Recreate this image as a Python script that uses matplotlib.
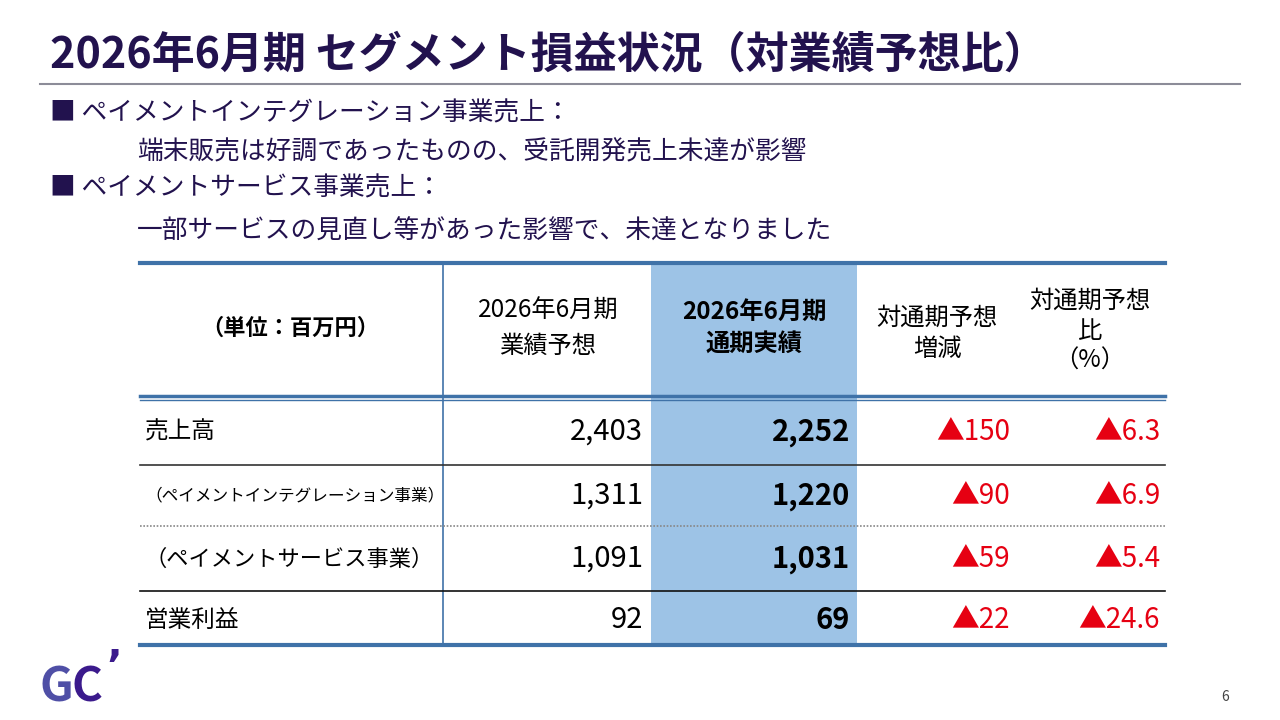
import matplotlib
import matplotlib.pyplot as plt

matplotlib.use("Agg")

plt.rcParams["font.family"] = ["Noto Sans CJK JP", "DejaVu Sans"]

# chart data
title = "2026年6月期 セグメント損益状況（対業績予想比）"
bullets = [
    ("■ ペイメントインテグレーション事業売上：", "端末販売は好調であったものの、受託開発売上未達が影響"),
    ("■ ペイメントサービス事業売上：", "一部サービスの見直し等があった影響で、未達となりました"),
]
unit_label = "（単位：百万円）"
col_headers = ["2026年6月期\n業績予想", "2026年6月期\n通期実績", "対通期予想\n増減", "対通期予想\n比\n（%）"]
row_labels = ["売上高", "（ペイメントインテグレーション事業）", "（ペイメントサービス事業）", "営業利益"]
forecast = [2403, 1311, 1091, 92]
actual = [2252, 1220, 1031, 69]
diff = [-150, -90, -59, -22]
ratio = [-6.3, -6.9, -5.4, -24.6]

TITLE_C = "#22124e"
BLUE = "#3f72a8"
HILITE = "#9dc3e6"
RED = "#e60012"


def tri(v, fmt):
    return ("▲" if v < 0 else "") + format(abs(v), fmt)


fig = plt.figure(figsize=(12.8, 7.2), dpi=100)
ax = fig.add_axes([0, 0, 1, 1])
ax.set_xlim(0, 1280)
ax.set_ylim(720, 0)
ax.axis("off")

# title and rule
ax.text(50, 55, title, fontsize=31, fontweight="bold", color=TITLE_C, va="center", ha="left")
ax.plot([40, 1240], [84, 84], color="#8c8c98", lw=1.5)

# bullet text
by = [113, 152, 188, 232]
for i, (head, body) in enumerate(bullets):
    ax.text(50, by[2 * i], head, fontsize=18.5, color=TITLE_C, va="center")
    ax.text(137, by[2 * i + 1], body, fontsize=18.5, color=TITLE_C, va="center")

# table geometry
top, head_bot, bot = 263, 398, 645
left, right, vline = 140, 1165, 443
hl_l, hl_r = 651, 857
row_y = [432, 496, 559, 620]
sep_y = [465, 526, 591]

ax.fill_between([hl_l, hl_r], top, bot, color=HILITE, lw=0, zorder=0)
ax.plot([left, right], [top, top], color=BLUE, lw=3)
ax.plot([left, right], [head_bot - 2, head_bot - 2], color=BLUE, lw=2.5)
ax.plot([left, right], [head_bot + 2, head_bot + 2], color=BLUE, lw=1)
ax.plot([left, right], [bot, bot], color=BLUE, lw=3)
ax.plot([vline, vline], [top, bot], color=BLUE, lw=1.2)
ax.plot([left, right], [sep_y[0], sep_y[0]], color="#333333", lw=1.2)
ax.plot([left, right], [sep_y[1], sep_y[1]], color="#888888", lw=1.2, ls=(0, (1, 1)))
ax.plot([left, right], [sep_y[2], sep_y[2]], color="#111111", lw=1.2)

# headers
ax.text(290, 328, unit_label, fontsize=16, fontweight="bold", ha="center", va="center")
hx = [548, 754, 937, 1090]
hy = [328, 328, 333, 331]
hsp = [1.45, 1.45, 1.25, 1.2]
for j, h in enumerate(col_headers):
    ax.text(hx[j], hy[j], h, fontsize=17.5, ha="center", va="center", linespacing=hsp[j],
            fontweight="bold" if j == 1 else "normal")

# body
label_size = [17, 12, 16, 17]
label_x = [145, 145, 145, 145]
for i, lab in enumerate(row_labels):
    y = row_y[i]
    ax.text(label_x[i], y, lab, fontsize=label_size[i], ha="left", va="center")
    ax.text(643, y, format(forecast[i], ","), fontsize=21, ha="right", va="center")
    ax.text(850, y, format(actual[i], ","), fontsize=21, ha="right", va="center", fontweight="semibold")
    ax.text(1010, y, tri(diff[i], "d"), fontsize=20, ha="right", va="center", color=RED)
    ax.text(1160, y, tri(ratio[i], ".1f"), fontsize=20, ha="right", va="center", color=RED)

# logo and page number
ax.text(40, 688, "G", fontsize=34, color="#4f4fa6", fontweight="bold", va="center", ha="left")
ax.text(72, 688, "C", fontsize=34, color="#3b1a8c", fontweight="bold", va="center", ha="left")
ax.text(106, 668, "ʼ", fontsize=30, color="#3b1a8c", fontweight="bold", va="center", ha="left")
ax.text(1225, 697, "6", fontsize=10, color="#444444", ha="center", va="center")

fig.savefig("out.png", dpi=100)
